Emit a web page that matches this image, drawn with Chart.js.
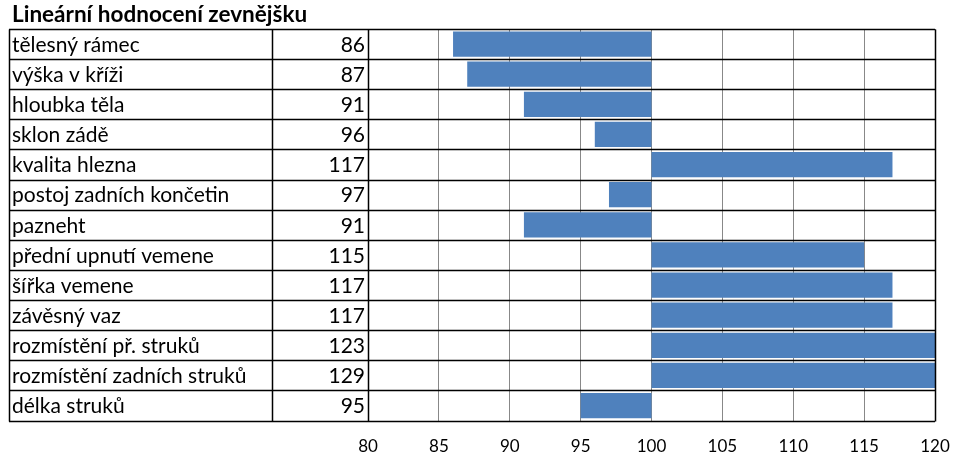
<!DOCTYPE html>
<html>
<head>
<meta charset="utf-8">
<script src="https://cdn.jsdelivr.net/npm/chart.js@4"></script>
<style>
  body { margin: 0; background: #fff; }
  #wrap { width: 956px; height: 465px; }
</style>
</head>
<body>
<div id="wrap"><canvas id="chart" width="956" height="465"></canvas></div>
<script>
const labels = [
    'tělesný rámec', 'výška v kříži', 'hloubka těla', 'sklon zádě', 'kvalita hlezna',
    'postoj zadních končetin', 'pazneht', 'přední upnutí vemene', 'šířka vemene',
    'závěsný vaz', 'rozmístění př. struků', 'rozmístění zadních struků', 'délka struků'
];
const values = [86, 87, 91, 96, 117, 97, 91, 115, 117, 117, 123, 129, 95];
const baseValue = 100;
const xMin = 80;
const xMax = 120;

const fontFamily = 'Lato, "Open Sans", sans-serif';

// table on the left + borders, drawn from the y scale positions
const tablePlugin = {
    id: 'tablePlugin',
    afterDraw(chart) {
        const ctx = chart.ctx;
        const area = chart.chartArea;
        const y = chart.scales.y;
        const half = (y.getPixelForValue(1) - y.getPixelForValue(0)) / 2;
        const left = 9;
        const valueCol = 272;

        ctx.save();
        ctx.strokeStyle = '#000';
        ctx.lineWidth = 1.5;
        ctx.beginPath();
        for (let i = 0; i <= labels.length; i++) {
            const py = Math.round(y.getPixelForValue(i) - half) + 0.5;
            ctx.moveTo(left, py);
            ctx.lineTo(area.right, py);
        }
        const top = Math.round(y.getPixelForValue(0) - half) + 0.5;
        const bottom = Math.round(y.getPixelForValue(labels.length - 1) + half) + 0.5;
        [left, valueCol, area.left, area.right].forEach(px => {
            ctx.moveTo(Math.round(px) + 0.5, top);
            ctx.lineTo(Math.round(px) + 0.5, bottom);
        });
        ctx.stroke();

        ctx.fillStyle = '#000';
        ctx.font = '21px ' + fontFamily;
        ctx.textBaseline = 'middle';
        labels.forEach((label, i) => {
            const py = y.getPixelForValue(i) + 1;
            ctx.textAlign = 'left';
            ctx.fillText(label, left + 3, py);
            ctx.textAlign = 'right';
            ctx.fillText(String(values[i]), area.left - 3, py);
        });
        ctx.restore();
    }
};

new Chart(document.getElementById('chart').getContext('2d'), {
    type: 'bar',
    data: {
        labels: labels,
        datasets: [{
            data: values.map(v => [baseValue, v]),
            backgroundColor: '#4F81BD',
            borderWidth: 0,
            barPercentage: 0.84,
            categoryPercentage: 1
        }]
    },
    options: {
        indexAxis: 'y',
        responsive: false,
        animation: false,
        layout: { padding: { left: 12, right: 21, top: 0, bottom: 8 } },
        plugins: {
            legend: { display: false },
            tooltip: { enabled: false },
            title: {
                display: true,
                text: 'Lineární hodnocení zevnějšku',
                align: 'start',
                color: '#000',
                font: { family: fontFamily, size: 22.5, weight: 'bold' },
                padding: { top: 1, bottom: 1 }
            }
        },
        scales: {
            x: {
                min: xMin,
                max: xMax,
                ticks: {
                    stepSize: 5,
                    color: '#000',
                    font: { family: fontFamily, size: 17 },
                    padding: 0
                },
                grid: { color: '#888', lineWidth: 1, drawTicks: true, tickLength: 16, tickColor: 'rgba(0,0,0,0)' },
                border: { display: false }
            },
            y: {
                ticks: { display: false },
                grid: { display: false },
                border: { display: false },
                afterFit(scale) { scale.width = 356; }
            }
        }
    },
    plugins: [tablePlugin]
});
</script>
</body>
</html>
